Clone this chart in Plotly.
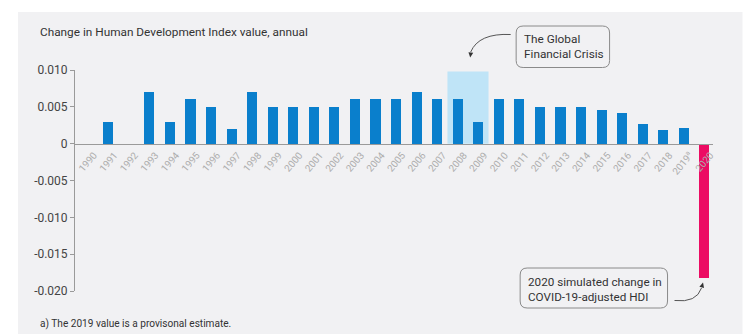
import math
import plotly.graph_objects as go

# Annual change in HDI, 1990-2020 (2019 provisional, 2020 simulated COVID-19-adjusted)
years = list(range(1990, 2021))
hdi_change = [
    0.0, 0.003, 0.0, 0.007, 0.003, 0.006, 0.005, 0.002, 0.007, 0.005,
    0.005, 0.005, 0.005, 0.006, 0.006, 0.006, 0.007, 0.006, 0.006, 0.003,
    0.006, 0.006, 0.005, 0.005, 0.005, 0.0046, 0.0042, 0.0027, 0.0018, 0.0021,
    -0.0183,
]
year_labels = [str(y) if y != 2019 else "2019<sup>a</sup>" for y in years]
y_ticks = [0.010, 0.005, 0.0, -0.005, -0.010, -0.015, -0.020]
y_tick_labels = ["0.010", "0.005", "0", "-0.005", "-0.010", "-0.015", "-0.020"]

BLUE = "#0a7fcc"
MAGENTA = "#ec0c63"
PANEL = "#f1f1f3"
HIGHLIGHT = "#bfe4f7"
FONT = "Roboto, Liberation Sans, sans-serif"

W, H = 750, 334
ML, MR, MT, MB = 75, 36.5, 70, 43
PW, PH = W - ML - MR, H - MT - MB
Y_RANGE = [-0.020, 0.010]


def px(x):
    """pixel x -> paper x"""
    return (x - ML) / PW


def py(y):
    """pixel y (from top) -> paper y"""
    return (H - MB - y) / PH


colors = [MAGENTA if y == 2020 else BLUE for y in years]

fig = go.Figure()
fig.add_trace(go.Bar(
    x=list(range(len(years))), y=hdi_change,
    marker=dict(color=colors, line=dict(width=0)),
    width=0.49, hoverinfo="skip",
))

zero_pos = (0 - Y_RANGE[0]) / (Y_RANGE[1] - Y_RANGE[0])

shapes = []
# light-grey panel behind everything
shapes.append(dict(type="rect", xref="paper", yref="paper",
                   x0=px(18), x1=px(743), y0=py(12), y1=py(334),
                   fillcolor=PANEL, line=dict(width=0), layer="below"))
# global financial crisis band (2008-2009)
gfc_i0 = years.index(2008) - 0.5
gfc_i1 = years.index(2009) + 0.5
shapes.append(dict(type="rect", xref="x", yref="y",
                   x0=gfc_i0, x1=gfc_i1, y0=0, y1=0.0098,
                   fillcolor=HIGHLIGHT, line=dict(width=0), layer="below"))


def rounded_box(x0, y0, x1, y1, r):
    # pixel coordinates -> paper path with rounded corners
    rx, ry = r / PW, r / PH
    a0, a1 = px(x0), px(x1)
    b0, b1 = py(y1), py(y0)  # b0 bottom, b1 top
    return (f"M {a0+rx},{b1} L {a1-rx},{b1} Q {a1},{b1} {a1},{b1-ry} "
            f"L {a1},{b0+ry} Q {a1},{b0} {a1-rx},{b0} L {a0+rx},{b0} "
            f"Q {a0},{b0} {a0},{b0+ry} L {a0},{b1-ry} Q {a0},{b1} {a0+rx},{b1} Z")


def curve(p0, c, p1):
    return (f"M {px(p0[0])},{py(p0[1])} Q {px(c[0])},{py(c[1])} "
            f"{px(p1[0])},{py(p1[1])}")


def head(tip, back, half=2.4):
    # small triangle arrowhead pointing at tip, coming from back
    dx, dy = tip[0] - back[0], tip[1] - back[1]
    n = math.hypot(dx, dy)
    ux, uy = dx / n, dy / n
    bx, by = tip[0] - ux * 5, tip[1] - uy * 5
    l = (bx - uy * half, by + ux * half)
    r = (bx + uy * half, by - ux * half)
    return (f"M {px(tip[0])},{py(tip[1])} L {px(l[0])},{py(l[1])} "
            f"L {px(r[0])},{py(r[1])} Z")


BOX_LINE = dict(color="#8a8a8a", width=1)
ARROW_LINE = dict(color="#555555", width=1)
shapes.append(dict(type="path", xref="paper", yref="paper",
                   path=rounded_box(516.5, 26, 610, 67.5, 7), line=BOX_LINE))
shapes.append(dict(type="path", xref="paper", yref="paper",
                   path=rounded_box(520.5, 268, 668, 308, 7), line=BOX_LINE))
shapes.append(dict(type="path", xref="paper", yref="paper",
                   path=curve((511, 34.5), (479, 33), (471, 52)), line=ARROW_LINE))
shapes.append(dict(type="path", xref="paper", yref="paper",
                   path=head((470.5, 57.5), (471.5, 50)),
                   fillcolor="#333333", line=dict(width=0)))
shapes.append(dict(type="path", xref="paper", yref="paper",
                   path=curve((675, 300.5), (697, 303), (702, 288)), line=ARROW_LINE))
shapes.append(dict(type="path", xref="paper", yref="paper",
                   path=head((703.5, 282.5), (701.5, 290)),
                   fillcolor="#333333", line=dict(width=0)))

annotations = [
    dict(text="Change in Human Development Index value, annual",
         xref="paper", yref="paper", x=px(38), y=py(32),
         xanchor="left", yanchor="middle", showarrow=False,
         font=dict(size=11.8, color="#333333", family=FONT)),
    dict(text="a) The 2019 value is a provisonal estimate.",
         xref="paper", yref="paper", x=px(38), y=py(324),
         xanchor="left", yanchor="middle", showarrow=False,
         font=dict(size=10.1, color="#333333", family=FONT)),
    dict(text="The Global<br>Financial Crisis",
         xref="paper", yref="paper", x=px(522), y=py(46.5),
         xanchor="left", yanchor="middle", align="left", showarrow=False,
         font=dict(size=11.8, color="#333333", family=FONT)),
    dict(text="2020 simulated change in<br>COVID-19-adjusted HDI",
         xref="paper", yref="paper", x=px(526.5), y=py(289.5),
         xanchor="left", yanchor="middle", align="left", showarrow=False,
         font=dict(size=11.7, color="#333333", family=FONT)),
]

fig.update_layout(
    width=W, height=H,
    margin=dict(l=ML, r=MR, t=MT, b=MB, pad=0),
    paper_bgcolor="white", plot_bgcolor="rgba(0,0,0,0)",
    showlegend=False, bargap=0,
    shapes=shapes, annotations=annotations,
    font=dict(family=FONT),
    xaxis=dict(
        range=[-0.62, len(years) - 0.58],
        tickmode="array", tickvals=list(range(len(years))), ticktext=year_labels,
        tickangle=-50, ticks="", showgrid=False, zeroline=False,
        showline=True, linecolor="#9a9a9a", linewidth=1,
        anchor="free", position=zero_pos, layer="above traces",
        tickfont=dict(size=9.8, color="#adadad", family=FONT),
        ticklabelshift=6, ticklabelstandoff=1,
    ),
    yaxis=dict(
        range=Y_RANGE, tickmode="array", tickvals=y_ticks, ticktext=y_tick_labels,
        ticks="outside", ticklen=4, tickcolor="#9a9a9a",
        showline=True, linecolor="#9a9a9a", linewidth=1,
        showgrid=False, zeroline=False,
        tickfont=dict(size=12, color="#444444", family=FONT),
    ),
)

fig.write_html("out.html")
